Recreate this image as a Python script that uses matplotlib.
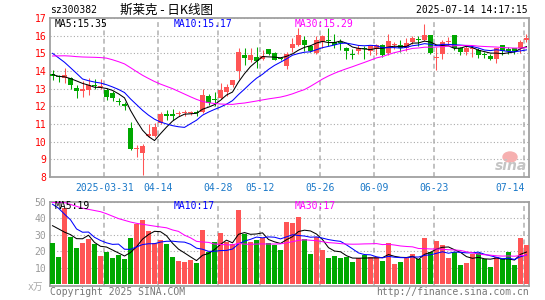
import numpy as np
import pandas as pd
import matplotlib
matplotlib.use('Agg')
from matplotlib import pyplot as plt
from matplotlib.patches import Ellipse

plt.rcParams['lines.scale_dashes'] = False

# trading days on the chart (2025-03-18 .. 2025-07-14, exchange holidays removed)
holidays = ['2025-04-04', '2025-05-01', '2025-05-02', '2025-05-05', '2025-06-02']
days = pd.bdate_range('2025-03-18', '2025-07-14').drop(pd.to_datetime(holidays))

open_ = [13.85, 13.72, 13.62, 13.62, 13.05, 12.88, 12.90, 13.18, 13.10, 12.95,
         12.75, 12.30, 12.15, 10.75, 9.58, 9.38, 10.32, 10.30, 11.05, 11.52,
         11.50, 11.58, 11.60, 11.62, 11.65, 11.68, 12.60, 12.40, 12.45, 12.80,
         13.20, 14.00, 14.90, 14.62, 14.80, 14.67, 15.22, 15.00, 14.72, 14.30,
         15.30, 15.45, 15.75, 15.43, 15.00, 15.66, 15.72, 15.66, 15.60, 15.30,
         14.95, 15.15, 15.30, 15.12, 15.25, 15.47, 15.00, 15.47, 15.50, 15.32,
         15.66, 15.76, 15.75, 16.03, 14.72, 14.95, 15.64, 16.03, 15.28, 15.10,
         15.27, 15.18, 14.92, 14.86, 14.70, 15.47, 15.18, 15.28, 15.28, 15.75]
high = [14.05, 13.75, 14.15, 13.65, 13.20, 13.45, 13.62, 13.55, 13.55, 13.05,
        12.85, 12.50, 12.25, 11.10, 9.80, 9.88, 11.00, 11.05, 11.70, 11.78,
        11.85, 11.75, 11.78, 11.75, 11.78, 13.00, 12.70, 12.80, 13.30, 13.25,
        13.50, 15.28, 15.28, 15.28, 15.37, 15.18, 15.26, 15.05, 14.80, 15.05,
        15.85, 16.45, 16.00, 15.50, 16.00, 16.03, 16.45, 16.10, 15.80, 15.37,
        15.25, 15.45, 15.42, 15.50, 15.55, 15.55, 16.12, 15.65, 15.75, 15.85,
        16.00, 16.00, 16.64, 16.05, 15.37, 15.75, 15.95, 16.05, 15.37, 15.50,
        15.50, 15.28, 15.08, 14.94, 15.32, 15.50, 15.37, 15.30, 15.75, 16.12]
low = [13.50, 13.40, 13.30, 13.00, 12.50, 12.55, 12.65, 13.00, 13.00, 12.35,
       12.30, 12.05, 11.80, 9.55, 9.15, 8.10, 10.25, 10.25, 11.00, 11.22,
       11.20, 11.45, 11.45, 11.50, 11.45, 11.60, 12.10, 12.00, 12.40, 12.60,
       13.10, 13.57, 14.33, 14.52, 14.18, 14.60, 14.90, 14.60, 14.60, 14.10,
       15.05, 15.40, 15.12, 15.08, 14.95, 15.30, 15.40, 15.30, 15.20, 14.70,
       14.70, 14.95, 14.70, 14.90, 14.90, 14.80, 14.90, 15.27, 15.10, 15.12,
       15.55, 15.42, 15.72, 14.94, 14.05, 14.70, 15.47, 15.18, 14.90, 14.90,
       14.80, 14.75, 14.72, 14.62, 14.45, 14.90, 14.95, 14.94, 15.00, 15.66]
close = [13.70, 13.68, 13.76, 13.20, 12.85, 13.00, 13.20, 13.15, 13.15, 12.55,
         12.45, 12.25, 12.00, 9.60, 9.63, 9.78, 10.45, 10.85, 11.55, 11.48,
         11.48, 11.62, 11.65, 11.66, 11.62, 12.63, 12.20, 12.37, 12.90, 13.10,
         13.48, 15.05, 14.72, 14.90, 14.56, 14.86, 14.96, 14.65, 14.70, 14.98,
         15.55, 16.02, 15.45, 15.15, 15.75, 16.00, 15.70, 15.45, 15.58, 15.13,
         14.92, 15.33, 15.27, 15.40, 15.50, 14.92, 15.70, 15.50, 15.28, 15.56,
         15.85, 15.74, 16.03, 15.00, 14.77, 15.66, 15.66, 15.30, 15.10, 15.28,
         15.30, 14.90, 14.90, 14.68, 15.28, 15.14, 15.16, 15.12, 15.62, 15.85]
volume = [25.1, 16.4, 46.0, 28.7, 21.7, 24.7, 27.1, 24.3, 17.0, 19.5,
          15.8, 18.0, 15.2, 27.7, 36.5, 39.0, 31.9, 24.9, 26.6, 24.3,
          16.4, 14.0, 13.5, 14.8, 12.9, 32.5, 19.3, 25.3, 30.7, 25.5,
          24.5, 45.0, 30.5, 25.5, 26.5, 27.9, 24.9, 23.5, 20.5, 37.8,
          37.2, 40.4, 27.5, 18.2, 28.5, 20.5, 16.0, 17.3, 16.0, 16.6,
          13.4, 15.6, 17.6, 16.6, 16.6, 14.2, 24.9, 12.2, 13.6, 16.0,
          18.1, 15.0, 27.9, 19.5, 25.9, 23.5, 16.0, 19.5, 11.6, 13.0,
          18.5, 18.9, 15.0, 10.6, 16.6, 15.0, 19.5, 11.6, 27.9, 23.5]

# sessions before the window (not drawn), guessed from where the MA lines start
pre_close = [13.5, 13.6, 13.7, 13.8, 13.6, 13.5, 13.4, 13.6, 13.5,
             15.2, 15.5, 15.8, 16.0, 16.2, 16.1, 15.9, 16.0, 15.96,
             15.32, 15.32, 16.2, 16.3, 16.3, 16.0, 16.2,
             14.18, 13.91, 13.7, 13.51]
pre_volume = [16.4, 46.0, 62.7, 55.7, 58.7, 48.1, 45.3, 38.0, 57.0, 59.8,
              62.0, 46.2, 58.7, 60.0, 56.0, 48.9, 41.9, 41.6, 39.3, 55.0,
              40.4, 82.0, 62.7, 76.7, 44.7, 25.9, 56.0, 36.2, 33.8]

tick_days = ['2025-03-31', '2025-04-14', '2025-04-28', '2025-05-12',
             '2025-05-26', '2025-06-09', '2025-06-23', '2025-07-14']
tick_labels = ['2025-03-31', '04-14', '04-28', '05-12', '05-26', '06-09', '06-23', '07-14']
price_ticks = [8, 9, 10, 11, 12, 13, 14, 15, 16, 17]
volume_ticks = [10, 20, 30, 40, 50]

RED = '#ff5555'
GREEN = '#00a800'
MONO = 'DejaVu Sans Mono'
W, H = 545, 300

x = np.arange(len(days))
o = np.array(open_)
c = np.array(close)
colors = np.where(c >= o, RED, GREEN)

n_pre = len(pre_close)
closes_all = pd.Series(pre_close + close)
vols_all = pd.Series(pre_volume + volume)
price_ma = {n: closes_all.rolling(n).mean().iloc[n_pre:].values for n in (5, 10, 30)}
vol_ma = {n: vols_all.rolling(n).mean().iloc[n_pre:].values for n in (5, 10, 30)}
ma_colors = {5: 'black', 10: '#0000ff', 30: '#ff00ff'}

fig = plt.figure(figsize=(W / 100, H / 100), dpi=100)
ax1 = fig.add_axes([50 / W, 1 - 177 / H, 479 / W, 159 / H])
ax2 = fig.add_axes([50 / W, 1 - 285.5 / H, 479 / W, 84 / H])

grid_pos = days.get_indexer(pd.to_datetime(tick_days)) - 0.37

# price panel
ax1.vlines(x, low, high, colors=colors, lw=0.75, zorder=3)
ax1.bar(x, np.maximum(np.abs(c - o), 0.06), bottom=np.minimum(o, c), width=0.72,
        color=colors, zorder=3)
for n in (5, 10, 30):
    ax1.plot(x, price_ma[n], color=ma_colors[n], lw=0.75, zorder=4)
ax1.set_ylim(8, 17)
ax1.set_yticks(price_ticks)
ax1.set_yticklabels([str(t) for t in price_ticks], color='#ff0000', fontsize=7, family=MONO)
ax1.set_xticks(grid_pos)
ax1.set_xticklabels(tick_labels, color='#1a78c8', fontsize=7, family=MONO)
ax1.get_xticklabels()[-1].set_ha('right')  # last date kept inside the frame

# volume panel
ax2.bar(x, volume, width=0.8, color=colors, zorder=3)
for n in (5, 10, 30):
    ax2.plot(x, vol_ma[n], color=ma_colors[n], lw=0.75, zorder=4)
ax2.set_ylim(-0.7, 50)
ax2.set_yticks(volume_ticks)
ax2.set_yticklabels([str(t) for t in volume_ticks], color='#999999', fontsize=7, family=MONO)
ax2.set_xticks(grid_pos)
ax2.set_xticklabels([])

for ax in (ax1, ax2):
    ax.set_xlim(-0.42, 79.42)
    ax.set_axisbelow(True)
    ax.tick_params(length=0, pad=2.5)
    ax.xaxis.grid(True, linestyle=(0, (3.5, 2.5)), color='#b0b0b0', lw=1.1)
    ax.yaxis.grid(True, linestyle=(0, (0.8, 1.6)), color='#aaaaaa', lw=0.8)
    for s in ax.spines.values():
        s.set_color('#a0a0a0')
        s.set_linewidth(1.3)
ax1.tick_params(axis='x', pad=4)


def ftext(px, py, s, **kw):
    kw.setdefault('family', MONO)
    kw.setdefault('fontsize', 7)
    kw.setdefault('va', 'center')
    fig.text(px / W, 1 - py / H, s, **kw)


ftext(50, 10, 'sz300382')
ftext(120, 10, '斯莱克 - 日K线图', family=['Noto Sans CJK SC', 'DejaVu Sans'], fontsize=9)
ftext(528, 10, '2025-07-14 14:17:15', ha='right')

ftext(55, 24, 'MA5:15.35', color='black')
ftext(174, 24, 'MA10:15.17', color='#0000ff')
ftext(295, 24, 'MA30:15.29', color='#ff00ff')

ftext(55, 206, 'MA5:19', color='black')
ftext(174, 206, 'MA10:17', color='#0000ff')
ftext(295, 206, 'MA30:17', color='#ff00ff')

ftext(28, 287, 'x万', color='#aaaaaa', family=[MONO, 'Noto Sans CJK SC'])
ftext(50, 292, 'Copyright 2025 SINA.COM', color='#777777')
ftext(529, 292, 'http://finance.sina.com.cn', color='#777777', ha='right')

# sina watermark
fig.add_artist(Ellipse((510 / W, 1 - 157 / H), 14 / W, 10 / H, transform=fig.transFigure,
                       color='#f6b0b0', zorder=5))
ftext(511, 166, 'sina', family='DejaVu Sans', fontsize=10, style='italic',
      weight='bold', color='#c4c4c4', ha='center', zorder=6)

fig.savefig('out.png', dpi=100)
